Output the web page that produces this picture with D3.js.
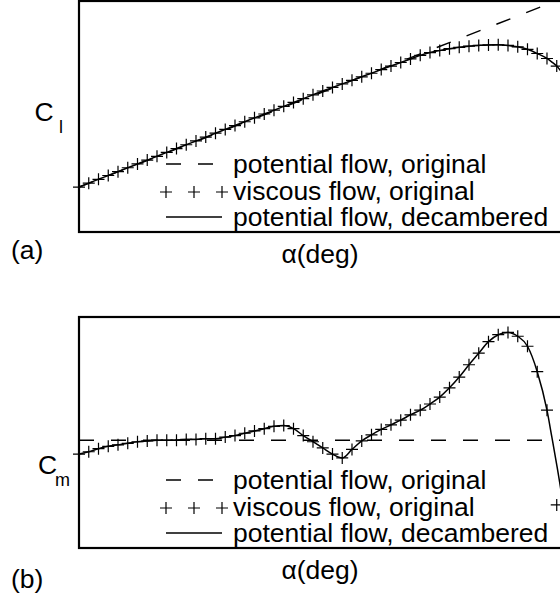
<!DOCTYPE html>
<html>
<head>
<meta charset="utf-8">
<script src="https://cdn.jsdelivr.net/npm/d3@7"></script>
<style>
  body { margin: 0; background: #fff; }
  text { font-family: "Liberation Sans", Arial, Helvetica, sans-serif; fill: #000; }
</style>
</head>
<body>
<div id="chart"></div>
<script>
// Angle of attack (deg) for the viscous runs
var alphaVisc = [-10, -9.5, -9, -8.5, -8, -7.5, -7, -6.5, -6, -5.5,
  -5, -4.5, -4, -3.5, -3, -2.5, -2, -1.5, -1, -0.5,
  0, 0.5, 1, 1.5, 2, 2.5, 3, 3.5, 4, 4.5,
  5, 5.5, 6, 6.5, 7, 7.5, 8, 8.5, 9, 9.5,
  10, 10.5, 11, 11.5, 12, 12.5, 13, 13.5, 14, 14.5];

var clVisc = [-0.494, -0.450, -0.407, -0.364, -0.321, -0.277, -0.234, -0.191, -0.148, -0.104,
  -0.061, -0.018, 0.025, 0.068, 0.112, 0.155, 0.198, 0.241, 0.285, 0.328,
  0.371, 0.414, 0.458, 0.501, 0.544, 0.587, 0.627, 0.667, 0.707, 0.747,
  0.787, 0.828, 0.868, 0.908, 0.948, 0.988, 1.020, 1.043, 1.063, 1.079,
  1.091, 1.100, 1.106, 1.107, 1.100, 1.084, 1.056, 1.009, 0.953, 0.868];

var cmVisc = [-0.128, -0.125, -0.121, -0.118, -0.116, -0.114, -0.112, -0.111, -0.110, -0.110,
  -0.110, -0.109, -0.109, -0.108, -0.108, -0.106, -0.104, -0.101, -0.098, -0.095,
  -0.092, -0.091, -0.095, -0.104, -0.112, -0.120, -0.128, -0.133, -0.122, -0.111,
  -0.103, -0.096, -0.090, -0.084, -0.077, -0.071, -0.063, -0.054, -0.042, -0.028,
  -0.012, 0.003, 0.018, 0.027, 0.030, 0.025, 0.012, -0.021, -0.071, -0.194];

// Decambered potential flow (finer steps near the end)
var alphaDec = [-10, -9.5, -9, -8.5, -8, -7.5, -7, -6.5, -6, -5.5,
  -5, -4.5, -4, -3.5, -3, -2.5, -2, -1.5, -1, -0.5,
  0, 0.5, 1, 1.5, 2, 2.5, 3, 3.5, 4, 4.5,
  5, 5.5, 6, 6.5, 7, 7.5, 8, 8.5, 9, 9.5,
  10, 10.5, 11, 11.5, 12, 12.5, 13, 13.5, 14, 14.25, 14.5, 14.75, 15];

var clDec = [-0.494, -0.450, -0.407, -0.364, -0.321, -0.277, -0.234, -0.191, -0.148, -0.104,
  -0.061, -0.018, 0.025, 0.068, 0.112, 0.155, 0.198, 0.241, 0.285, 0.328,
  0.371, 0.414, 0.458, 0.501, 0.544, 0.587, 0.627, 0.667, 0.707, 0.747,
  0.787, 0.828, 0.868, 0.908, 0.948, 0.988, 1.020, 1.043, 1.063, 1.079,
  1.091, 1.100, 1.106, 1.107, 1.100, 1.084, 1.056, 1.009, 0.953, 0.913, 0.868, 0.801, 0.733];

var cmDec = [-0.128, -0.125, -0.121, -0.118, -0.116, -0.114, -0.112, -0.111, -0.110, -0.110,
  -0.110, -0.109, -0.109, -0.108, -0.108, -0.106, -0.104, -0.101, -0.098, -0.095,
  -0.092, -0.091, -0.095, -0.104, -0.112, -0.120, -0.128, -0.133, -0.122, -0.111,
  -0.103, -0.096, -0.090, -0.084, -0.077, -0.071, -0.063, -0.054, -0.042, -0.028,
  -0.012, 0.003, 0.018, 0.027, 0.030, 0.025, 0.012, -0.021, -0.071, -0.106, -0.142, -0.181, -0.227];

// Original potential flow: straight line for Cl, constant Cm
var alphaPot = [-10, 15];
var clPot = [-0.494, 1.646];
var cmPot = [-0.110, -0.110];

var legendLabels = ["potential flow, original", "viscous flow, original", "potential flow, decambered"];

var svgWidth = 560;
var svgHeight = 601;

var plotLeft = 79;
var plotRight = 562;

var svg = d3.select("#chart")
  .append("svg")
  .attr("width", svgWidth)
  .attr("height", svgHeight);

var xScale = d3.scaleLinear()
  .domain([-10, 14.77])
  .range([plotLeft, plotRight]);

// plus marker, about 12px across like the reference
var plusPath = "M-6,0H6M0,-6V6";

function zip(xs, ys) {
  return xs.map(function(x, i) { return { a: x, v: ys[i] }; });
}

/*------------------------- one panel: frame, curves, legend, labels ------------------------- */
function drawPanel(cfg) {
  var yScale = d3.scaleLinear()
    .domain(cfg.domain)
    .range([cfg.bottom, cfg.top]);

  var g = svg.append("g");

  g.append("clipPath")
    .attr("id", cfg.id + "-clip")
    .append("rect")
    .attr("x", plotLeft)
    .attr("y", cfg.top)
    .attr("width", plotRight - plotLeft)
    .attr("height", cfg.bottom - cfg.top);

  var line = d3.line()
    .x(d => xScale(d.a))
    .y(d => yScale(d.v));

  var curves = g.append("g").attr("clip-path", `url(#${cfg.id}-clip)`);

  // potential flow, original (dashed)
  curves.append("path")
    .datum(zip(alphaPot, cfg.pot))
    .attr("d", line)
    .attr("fill", "none")
    .attr("stroke", "#000")
    .attr("stroke-width", 1.4)
    .attr("stroke-dasharray", "15,17");

  // potential flow, decambered (solid)
  curves.append("path")
    .datum(zip(alphaDec, cfg.dec))
    .attr("d", line.curve(d3.curveMonotoneX))
    .attr("fill", "none")
    .attr("stroke", "#000")
    .attr("stroke-width", 1.5);

  // viscous flow markers
  g.selectAll(".plus")
    .data(zip(alphaVisc, cfg.visc))
    .enter()
    .append("path")
    .attr("transform", d => `translate(${xScale(d.a)},${yScale(d.v)})`)
    .attr("d", plusPath)
    .attr("fill", "none")
    .attr("stroke", "#000")
    .attr("stroke-width", 1.2);

  // frame
  g.append("rect")
    .attr("x", plotLeft)
    .attr("y", cfg.top)
    .attr("width", plotRight - plotLeft)
    .attr("height", cfg.bottom - cfg.top)
    .attr("fill", "none")
    .attr("stroke", "#000")
    .attr("stroke-width", 2.2);

  // legend
  var legend = g.append("g")
    .attr("transform", `translate(0, ${cfg.top})`);
  var baselines = [172, 199, 225];
  var sx0 = 166, sx1 = 222;

  legend.append("line")
    .attr("x1", sx0).attr("x2", sx1)
    .attr("y1", baselines[0] - 9).attr("y2", baselines[0] - 9)
    .attr("stroke", "#000")
    .attr("stroke-width", 1.4)
    .attr("stroke-dasharray", "15,17");

  legend.selectAll(".lplus")
    .data([sx0, (sx0 + sx1) / 2, sx1])
    .enter()
    .append("path")
    .attr("transform", d => `translate(${d},${baselines[1] - 8})`)
    .attr("d", plusPath)
    .attr("fill", "none")
    .attr("stroke", "#000")
    .attr("stroke-width", 1.2);

  legend.append("line")
    .attr("x1", sx0).attr("x2", sx1)
    .attr("y1", baselines[2] - 9).attr("y2", baselines[2] - 9)
    .attr("stroke", "#000")
    .attr("stroke-width", 1.5);

  legend.selectAll(".ltext")
    .data(legendLabels)
    .enter()
    .append("text")
    .attr("x", 233)
    .attr("y", (d, i) => baselines[i])
    .style("font-size", "26.5px")
    .text(d => d);

  // y label with subscript
  var ylab = g.append("text")
    .style("font-size", "26.5px");
  ylab.append("tspan")
    .attr("x", cfg.labX)
    .attr("y", cfg.labY)
    .text("C");
  ylab.append("tspan")
    .attr("x", cfg.subX)
    .attr("y", cfg.labY + 12)
    .style("font-size", "18px")
    .text(cfg.sub);

  // x label
  g.append("text")
    .attr("x", 320)
    .attr("y", cfg.bottom + 31)
    .attr("text-anchor", "middle")
    .style("font-size", "26.5px")
    .text("\u03b1(deg)");

  // panel tag
  g.append("text")
    .attr("x", 11)
    .attr("y", cfg.tagY)
    .style("font-size", "26.5px")
    .text(cfg.tag);
}

drawPanel({
  id: "a", top: 1, bottom: 232, domain: [-1.0, 1.6],
  visc: clVisc, dec: clDec, pot: clPot,
  sub: "l", labX: 34.5, labY: 121, subX: 59, tag: "(a)", tagY: 259
});

drawPanel({
  id: "b", top: 317, bottom: 548, domain: [-0.25, 0.05],
  visc: cmVisc, dec: cmDec, pot: cmPot,
  sub: "m", labX: 38, labY: 474, subX: 55, tag: "(b)", tagY: 588
});
</script>
</body>
</html>
